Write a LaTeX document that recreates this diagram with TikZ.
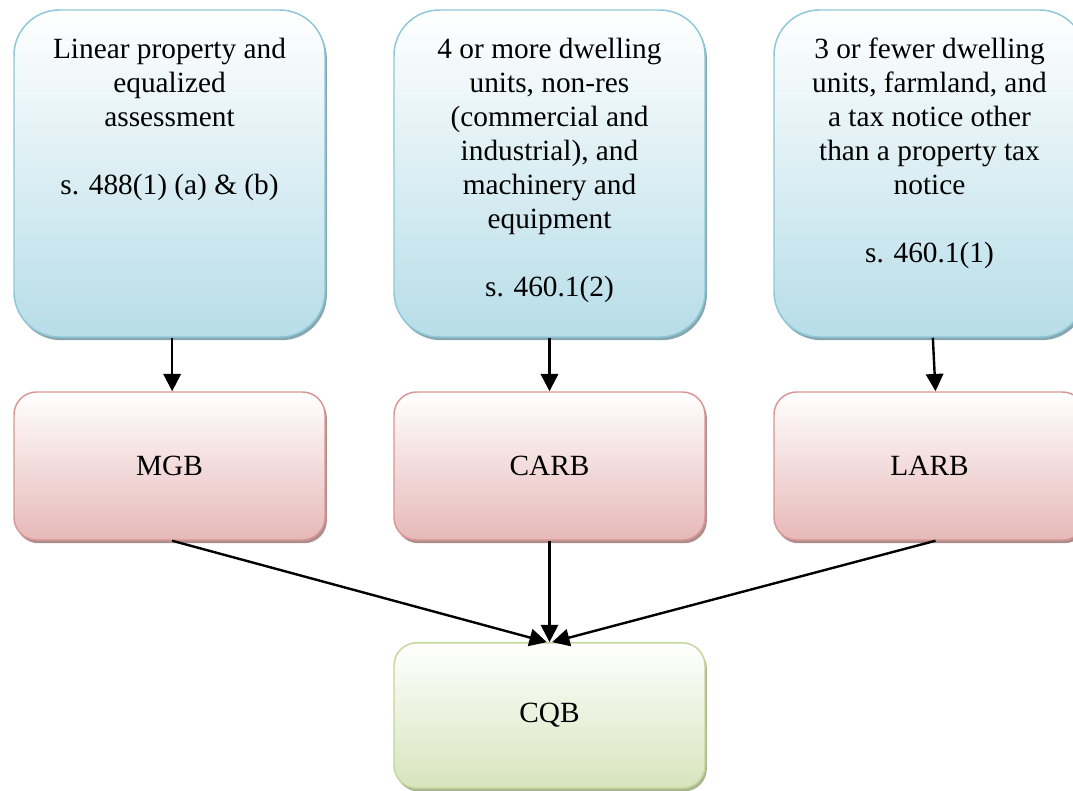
\documentclass[tikz,border=0pt]{standalone}
\usepackage{fontspec}
\setmainfont{Liberation Serif}
\usetikzlibrary{arrows.meta,shadows}
\definecolor{bluebot}{HTML}{B7DDE8}
\definecolor{blueborder}{HTML}{8EC8D8}
\definecolor{blueshadow}{HTML}{86A6B0}
\definecolor{redbot}{HTML}{E6B9B8}
\definecolor{redborder}{HTML}{D99694}
\definecolor{redshadow}{HTML}{AD8E8D}
\definecolor{greenbot}{HTML}{D7E4BD}
\definecolor{greenborder}{HTML}{C3D69B}
\definecolor{greenshadow}{HTML}{A9B58F}
\begin{document}
\begin{tikzpicture}[x=0.75pt,y=-0.75pt,
  box/.style={rectangle, line width=1.1pt, inner sep=0pt, font=\fontsize{22}{25.5}\selectfont},
  topbox/.style={box, minimum width=233.25pt, minimum height=245.25pt, rounded corners=34pt,
    draw=blueborder, top color=white, bottom color=bluebot,
    general shadow={fill=blueshadow, shadow xshift=1.4pt, shadow yshift=-2.4pt}},
  midbox/.style={box, minimum width=233.25pt, minimum height=111pt, rounded corners=17pt,
    draw=redborder, top color=white, bottom color=redbot,
    general shadow={fill=redshadow, shadow xshift=1.4pt, shadow yshift=-2.4pt}},
  lowbox/.style={box, minimum width=233.25pt, minimum height=109pt, rounded corners=17pt,
    draw=greenborder, top color=white, bottom color=greenbot,
    general shadow={fill=greenshadow, shadow xshift=1.4pt, shadow yshift=-2.4pt}},
  txt/.style={font=\fontsize{22}{25.5}\selectfont, align=center, inner sep=0pt, anchor=north},
  arr/.style={line width=1.8pt, -{Triangle[length=13pt,width=13pt]}}]
\useasboundingbox (0,0) rectangle (1073,790);
\fill[white] (0,0) rectangle (1073,790);
% top boxes
\node[topbox] (b1) at (169.5,173.5) {};
\node[topbox] (b2) at (549.5,173.5) {};
\node[topbox] (b3) at (929.5,173.5) {};
\node[txt] (t1) at (169.5,38) {Linear property and\\equalized\\assessment\\[25.5pt]s. 488(1) (a) \& (b)};
\node[txt] (t2) at (549.5,38) {4 or more dwelling\\units, non-res\\(commercial and\\industrial), and\\machinery and\\equipment\\[25.5pt]s. 460.1(2)};
\node[txt] (t3) at (929.5,38) {3 or fewer dwelling\\units, farmland, and\\a tax notice other\\than a property tax\\notice\\[25.5pt]s. 460.1(1)};
% middle boxes
\node[midbox] (m1) at (169.5,466) {MGB};
\node[midbox] (m2) at (549.5,466) {CARB};
\node[midbox] (m3) at (929.5,466) {LARB};
% bottom box
\node[lowbox] (c) at (549.5,715.5) {CQB};
% arrows
\draw[arr] ([xshift=2pt]b1.south) -- ([xshift=2pt]m1.north);
\draw[arr] (b2.south) -- (m2.north);
\draw[arr] ([xshift=2.5pt]b3.south) -- ([xshift=4.5pt]m3.north);
\draw[arr] ([xshift=2pt]m1.south) -- ([xshift=-2pt]c.north);
\draw[arr] (m2.south) -- (c.north);
\draw[arr] ([xshift=4.5pt]m3.south) -- ([xshift=2pt]c.north);
\end{tikzpicture}
\end{document}
